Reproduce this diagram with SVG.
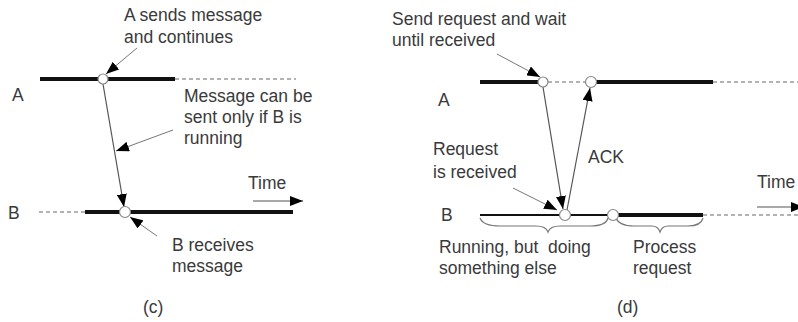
<svg xmlns="http://www.w3.org/2000/svg" width="798" height="322" viewBox="0 0 798 322">
<style>
text{font-family:"Liberation Sans",Arial,sans-serif;font-size:17.5px;fill:#3a3a3a}
.thick{stroke:#111;stroke-width:4;fill:none}
.thin{stroke:#111;stroke-width:2;fill:none}
.dash{stroke:#9a9a9a;stroke-width:1.5;stroke-dasharray:4 3;fill:none}
.msg{stroke:#555;stroke-width:1.2;fill:none;marker-end:url(#ah)}
.ptr{stroke:#777;stroke-width:1;fill:none;marker-end:url(#ah)}
.ev{fill:#fff;stroke:#888;stroke-width:1.2}
.brace{stroke:#777;stroke-width:1.2;fill:none}
</style>
<defs>
<marker id="ah" viewBox="0 0 13 10" refX="13" refY="5" markerWidth="13" markerHeight="10" markerUnits="userSpaceOnUse" orient="auto"><path d="M0,0 L13,5 L0,10 z" fill="#000"/></marker>
</defs>
<rect width="798" height="322" fill="#fff"/>

<g id="connectors">
<line class="msg" x1="103" y1="84" x2="124" y2="207"/>
<line class="ptr" x1="137" y1="48" x2="106" y2="74"/>
<line class="ptr" x1="173" y1="130" x2="116" y2="151"/>
<line class="ptr" x1="157" y1="236" x2="130" y2="217"/>
<line class="msg" x1="253" y1="201" x2="303" y2="201"/>
<line class="msg" x1="543" y1="87" x2="563" y2="209"/>
<line class="msg" x1="567" y1="210" x2="590" y2="88"/>
<line class="ptr" x1="497" y1="54" x2="540" y2="77"/>
<line class="ptr" x1="513" y1="188" x2="557" y2="210"/>
<line class="msg" x1="757" y1="207" x2="804" y2="207"/>
</g>

<g id="processA-c">
<line class="thick" x1="40" y1="79" x2="175" y2="79"/>
<line class="dash" x1="175" y1="79" x2="296" y2="79"/>
<text x="12" y="101">A</text>
</g>
<g id="processB-c">
<line class="dash" x1="39" y1="212" x2="85" y2="212"/>
<line class="thick" x1="85" y1="212" x2="293" y2="212"/>
<text x="8" y="219">B</text>
</g>
<g id="sendA-c"><circle class="ev" cx="103" cy="79" r="5"/></g>
<g id="recvB-c"><circle class="ev" cx="125" cy="212" r="5.5"/></g>
<g id="labels-c">
<text x="124" y="21">A sends message</text>
<text x="124" y="43">and continues</text>
<text x="184" y="102">Message can be</text>
<text x="184" y="123">sent only if B is</text>
<text x="184" y="144">running</text>
<text x="248" y="189">Time</text>
<text x="172" y="251">B receives</text>
<text x="172" y="272">message</text>
<text x="143" y="313">(c)</text>
</g>

<g id="processA-d">
<line class="thick" x1="480" y1="82" x2="538" y2="82"/>
<line class="dash" x1="548" y1="82" x2="586" y2="82"/>
<line class="thick" x1="596" y1="82" x2="713" y2="82"/>
<line class="dash" x1="713" y1="82" x2="798" y2="82"/>
<text x="438" y="106">A</text>
</g>
<g id="sendA-d"><circle class="ev" cx="543" cy="82" r="5"/></g>
<g id="ackA-d"><circle class="ev" cx="591" cy="82" r="5.5"/></g>
<g id="processB-d">
<line class="thin" x1="480" y1="215" x2="608" y2="215"/>
<line class="thick" x1="618" y1="215" x2="703" y2="215"/>
<line class="dash" x1="703" y1="215" x2="798" y2="215"/>
<text x="441" y="221">B</text>
<path class="brace" d="M480,218 Q483,226 500,226 L536,226 Q546,226 548,232 Q550,226 560,226 L590,226 Q606,226 608,218"/>
<path class="brace" d="M616,218 Q619,226 634,226 L652,226 Q658,226 660,232 Q662,226 668,226 L688,226 Q701,226 703,218"/>
</g>
<g id="recvB-d"><circle class="ev" cx="565" cy="215" r="5.5"/></g>
<g id="startB-d"><circle class="ev" cx="613" cy="215" r="5.5"/></g>
<g id="labels-d">
<text x="392" y="25">Send request and wait</text>
<text x="392" y="46">until received</text>
<text x="433" y="155">Request</text>
<text x="433" y="178">is received</text>
<text x="588" y="163">ACK</text>
<text x="757" y="188">Time</text>
<text x="439" y="253">Running, but&#160; doing</text>
<text x="439" y="274">something else</text>
<text x="633" y="253">Process</text>
<text x="633" y="274">request</text>
<text x="617" y="313">(d)</text>
</g>
</svg>
